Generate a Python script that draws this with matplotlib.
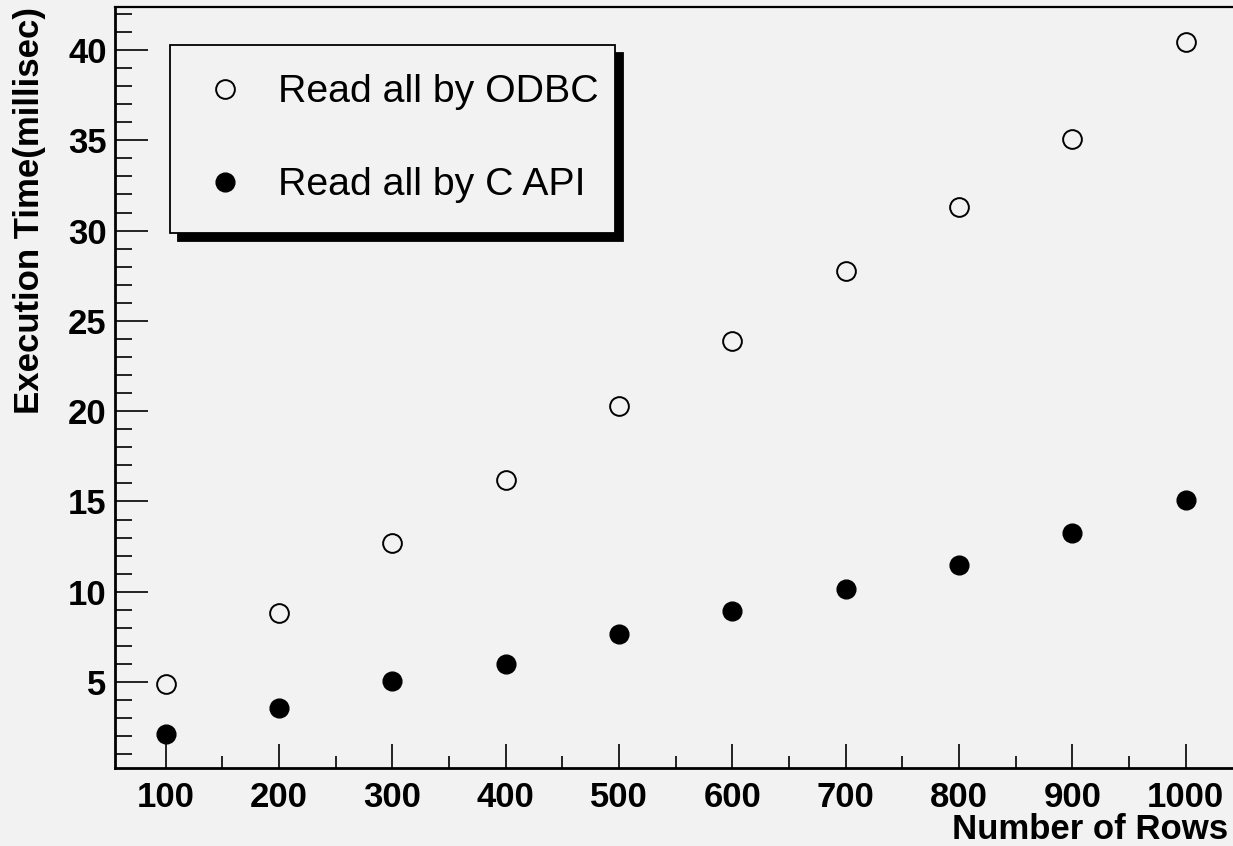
import matplotlib
matplotlib.use("Agg")
import matplotlib.pyplot as plt
from matplotlib.ticker import MultipleLocator

# données
rows = [100, 200, 300, 400, 500, 600, 700, 800, 900, 1000]
odbc_ms = [4.89, 8.84, 12.69, 16.19, 20.29, 23.9, 27.78, 31.3, 35.07, 40.45]
capi_ms = [2.14, 3.55, 5.08, 6.02, 7.66, 8.91, 10.17, 11.48, 13.27, 15.07]
labels = ["Read all by ODBC", "Read all by C API"]

BG = "#f2f2f2"
plt.rcParams["font.family"] = ["Liberation Sans", "DejaVu Sans"]

fig = plt.figure(figsize=(12.33, 8.46), dpi=100, facecolor=BG)
ax = fig.add_axes([115 / 1233, 1 - 768 / 846, 1 - 115 / 1233, (768 - 7) / 846])
ax.set_facecolor(BG)

ax.plot(rows, odbc_ms, "o", ls="none", ms=13.5, mfc="none", mec="black", mew=1.4,
        label=labels[0])
ax.plot(rows, capi_ms, "o", ls="none", ms=13.5, mfc="black", mec="black",
        label=labels[1])

ax.set_xlim(55.3, 1041.7)
ax.set_ylim(0.24, 42.38)

ax.xaxis.set_major_locator(MultipleLocator(100))
ax.xaxis.set_minor_locator(MultipleLocator(50))
ax.yaxis.set_major_locator(MultipleLocator(5))
ax.yaxis.set_minor_locator(MultipleLocator(1))

ax.tick_params(axis="x", which="major", direction="in", length=17, width=1.2,
               labelsize=25, pad=9)
ax.tick_params(axis="x", which="minor", direction="in", length=8.5, width=1.2)
ax.tick_params(axis="y", which="major", direction="in", length=24, width=1.2,
               labelsize=25, pad=6)
ax.tick_params(axis="y", which="minor", direction="in", length=12, width=1.2)
for lab in ax.get_xticklabels() + ax.get_yticklabels():
    lab.set_fontweight("bold")

ax.spines["right"].set_visible(False)
ax.spines["top"].set_linewidth(1.6)
ax.spines["left"].set_linewidth(2.0)
ax.spines["bottom"].set_linewidth(2.0)

ax.set_xlabel("Number of Rows", fontsize=25, fontweight="bold", ha="right")
ax.xaxis.set_label_coords(1 - 5 / 1118, -0.059)
ax.set_ylabel("Execution Time(millisec)", fontsize=25, fontweight="bold", ha="right")
ax.yaxis.set_label_coords(-0.062, 1.0)

# légende style ROOT avec ombre noire
leg = ax.legend(loc="upper left",
                bbox_to_anchor=(170 / 1233, 1 - 45 / 846, 445 / 1233, 0),
                bbox_transform=fig.transFigure, borderaxespad=0, mode="expand",
                fontsize=28.3, frameon=True, fancybox=False, framealpha=1,
                facecolor=BG, edgecolor="black", markerscale=1.0,
                handlelength=1.3, handletextpad=0.7, borderpad=0.75,
                labelspacing=1.45,
                shadow={"ox": 6, "oy": -6, "color": "black", "alpha": 1})
leg.get_frame().set_linewidth(1.3)

fig.savefig("out.png", dpi=100, facecolor=BG)
